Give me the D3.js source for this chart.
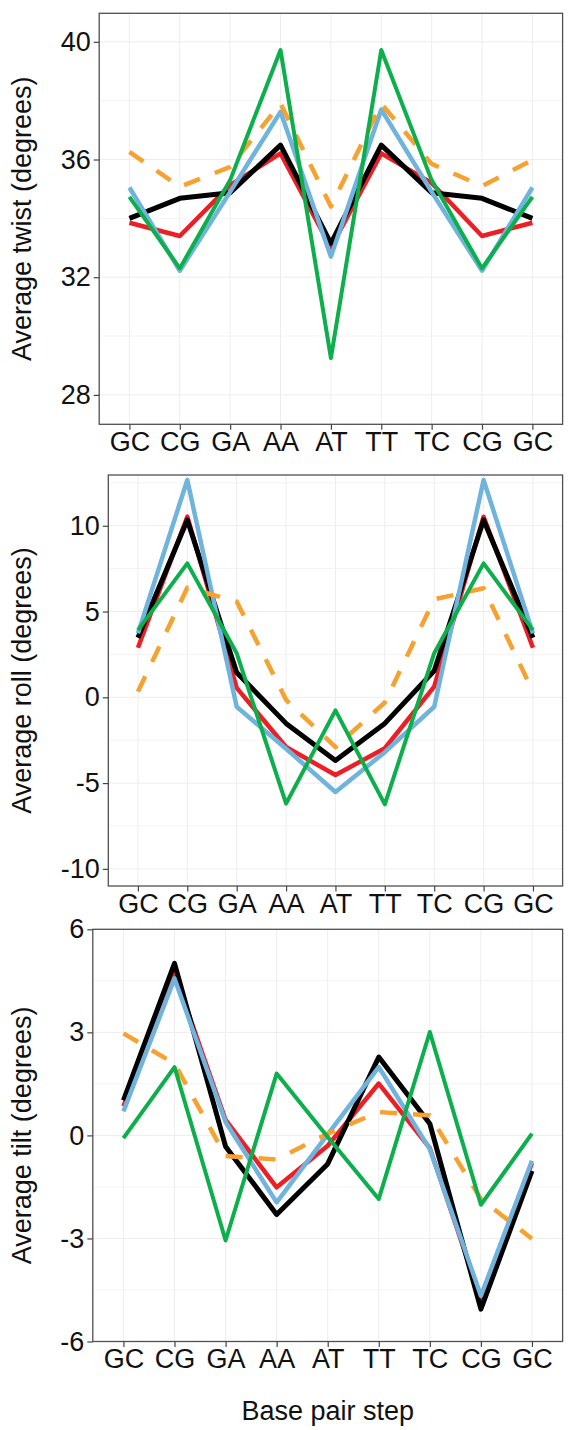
<!DOCTYPE html>
<html>
<head>
<meta charset="utf-8">
<script src="https://cdn.jsdelivr.net/npm/d3@7"></script>
<style>
  html, body { margin: 0; padding: 0; background: #ffffff; }
  svg { display: block; font-family: "Liberation Sans", Arial, sans-serif; }
</style>
</head>
<body>
<svg id="chart" width="577" height="1430"></svg>
<script>
// ---------- data ----------
const steps = ["GC", "CG", "GA", "AA", "AT", "TT", "TC", "CG", "GC"];

const twistBlack  = [34.0, 34.68, 34.87, 36.49, 33.15, 36.49, 34.87, 34.68, 34.0];
const twistRed    = [33.85, 33.4, 35.13, 36.21, 33.0, 36.21, 35.2, 33.4, 33.85];
const twistBlue   = [35.05, 32.22, 34.9, 37.62, 32.7, 37.7, 34.9, 32.22, 35.05];
const twistGreen  = [34.73, 32.3, 35.3, 39.72, 29.25, 39.72, 35.3, 32.3, 34.73];
const twistOrange = [36.26, 35.07, 35.75, 37.9, 34.4, 37.9, 35.85, 35.1, 35.98];

const rollBlack  = [3.47, 10.34, 1.45, -1.52, -3.68, -1.52, 1.55, 10.34, 3.47];
const rollRed    = [2.89, 10.53, 0.55, -2.9, -4.53, -2.97, 0.62, 10.53, 2.89];
const rollBlue   = [3.73, 12.67, -0.55, -3.0, -5.52, -3.2, -0.55, 12.67, 3.73];
const rollGreen  = [3.92, 7.81, 2.57, -6.2, -0.76, -6.24, 2.57, 7.81, 3.92];
const rollOrange = [0.33, 6.39, 5.58, -0.15, -2.9, -0.3, 5.71, 6.36, 0.33];

const tiltBlack  = [1.02, 5.01, -0.32, -2.3, -0.83, 2.28, 0.34, -5.06, -1.03];
const tiltRed    = [0.85, 4.72, 0.45, -1.51, -0.3, 1.51, -0.37, -4.77, -0.8];
const tiltBlue   = [0.70, 4.57, 0.39, -1.95, 0.03, 1.99, -0.4, -4.67, -0.74];
const tiltGreen  = [-0.08, 1.99, -3.06, 1.8, -0.05, -1.85, 3.01, -2.02, 0.05];
const tiltOrange = [2.97, 2.09, -0.6, -0.7, 0.05, 0.68, 0.58, -1.85, -3.01];

const twistTicks = [28, 32, 36, 40];
const twistMinor = [30, 34, 38];
const rollTicks = [-10, -5, 0, 5, 10];
const rollMinor = [-7.5, -2.5, 2.5, 7.5, 12.5];
const tiltTicks = [-6, -3, 0, 3, 6];
const tiltMinor = [-4.5, -1.5, 1.5, 4.5];

const yTitles = ["Average twist (degrees)", "Average roll (degrees)", "Average tilt (degrees)"];
const xTitle = "Base pair step";

// ---------- styling ----------
const seriesStyle = [
  { key: "red",    color: "#ED1F26", width: 4.5, dash: null },
  { key: "black",  color: "#000000", width: 5,   dash: null },
  { key: "blue",   color: "#70B3DC", width: 4.5, dash: null },
  { key: "orange", color: "#F7A131", width: 4.5, dash: "17,16" },
  { key: "green",  color: "#0CAF4B", width: 4,   dash: null }
];

const panels = [
  { box: { left: 99.2, right: 562.6, top: 13.3, bottom: 424.3 }, domain: [27.0, 40.97],
    ticks: twistTicks, minor: twistMinor, title: yTitles[0],
    data: { black: twistBlack, red: twistRed, blue: twistBlue, green: twistGreen, orange: twistOrange } },
  { box: { left: 108.3, right: 562.6, top: 475, bottom: 886 }, domain: [-11.0, 12.96],
    ticks: rollTicks, minor: rollMinor, title: yTitles[1],
    data: { black: rollBlack, red: rollRed, blue: rollBlue, green: rollGreen, orange: rollOrange } },
  { box: { left: 92.8, right: 562.6, top: 929.3, bottom: 1341.5 }, domain: [-6, 6],
    ticks: tiltTicks, minor: tiltMinor, title: yTitles[2],
    data: { black: tiltBlack, red: tiltRed, blue: tiltBlue, green: tiltGreen, orange: tiltOrange } }
];

const svg = d3.select("#chart");
svg.append("rect").attr("width", 577).attr("height", 1430).attr("fill", "#ffffff");

const FONT = 27;

panels.forEach((p, pi) => {
  const b = p.box;
  const x = d3.scalePoint().domain(d3.range(steps.length)).range([b.left, b.right]).padding(0.6);
  const y = d3.scaleLinear().domain(p.domain).range([b.bottom, b.top]);
  const g = svg.append("g");

  // grid
  g.selectAll(".gminor").data(p.minor).enter().append("line")
    .attr("x1", b.left).attr("x2", b.right)
    .attr("y1", d => y(d)).attr("y2", d => y(d))
    .attr("stroke", "#F4F4F4").attr("stroke-width", 1);
  g.selectAll(".gmajory").data(p.ticks).enter().append("line")
    .attr("x1", b.left).attr("x2", b.right)
    .attr("y1", d => y(d)).attr("y2", d => y(d))
    .attr("stroke", "#EDEDED").attr("stroke-width", 1);
  g.selectAll(".gmajorx").data(d3.range(steps.length)).enter().append("line")
    .attr("x1", d => x(d)).attr("x2", d => x(d))
    .attr("y1", b.top).attr("y2", b.bottom)
    .attr("stroke", "#EDEDED").attr("stroke-width", 1);

  // lines
  const clipId = "clip" + pi;
  svg.append("clipPath").attr("id", clipId).append("rect")
    .attr("x", b.left).attr("y", b.top).attr("width", b.right - b.left).attr("height", b.bottom - b.top);
  const line = d3.line().x((d, i) => x(i)).y(d => y(d));
  const lg = g.append("g").attr("clip-path", `url(#${clipId})`);
  seriesStyle.forEach(s => {
    lg.append("path")
      .attr("d", line(p.data[s.key]))
      .attr("fill", "none")
      .attr("stroke", s.color)
      .attr("stroke-width", s.width)
      .attr("stroke-linejoin", "round")
      .attr("stroke-linecap", "butt")
      .attr("stroke-dasharray", s.dash);
  });

  // border
  g.append("rect")
    .attr("x", b.left).attr("y", b.top)
    .attr("width", b.right - b.left).attr("height", b.bottom - b.top)
    .attr("fill", "none").attr("stroke", "#505050").attr("stroke-width", 1.3);

  // y axis
  const yAxis = d3.axisLeft(y).tickValues(p.ticks).tickSize(5.5).tickPadding(3).tickFormat(d3.format("d"));
  const ya = g.append("g").attr("transform", `translate(${b.left},0)`).call(yAxis);
  ya.select(".domain").remove();
  ya.selectAll(".tick line").attr("stroke", "#444").attr("stroke-width", 1.2);
  ya.selectAll(".tick text").attr("font-size", FONT).attr("fill", "#111")
    .attr("font-family", "Liberation Sans, Arial, sans-serif")
    .text(d => d < 0 ? "-" + Math.abs(d) : d);

  // x axis
  const xAxis = d3.axisBottom(x).tickSize(5.5).tickPadding(2).tickFormat(i => steps[i]);
  const xa = g.append("g").attr("transform", `translate(0,${b.bottom})`).call(xAxis);
  xa.select(".domain").remove();
  xa.selectAll(".tick line").attr("stroke", "#444").attr("stroke-width", 1.2);
  xa.selectAll(".tick text").attr("font-size", FONT).attr("fill", "#111")
    .attr("font-family", "Liberation Sans, Arial, sans-serif");

  // y title
  const cy = (b.top + b.bottom) / 2;
  g.append("text")
    .attr("transform", `translate(31,${cy}) rotate(-90)`)
    .attr("text-anchor", "middle")
    .attr("font-size", FONT).attr("fill", "#111")
    .text(p.title);

  if (pi === 2) {
    g.append("text")
      .attr("x", (b.left + b.right) / 2).attr("y", 1420)
      .attr("text-anchor", "middle")
      .attr("font-size", FONT).attr("fill", "#111")
      .text(xTitle);
  }
});
</script>
</body>
</html>
